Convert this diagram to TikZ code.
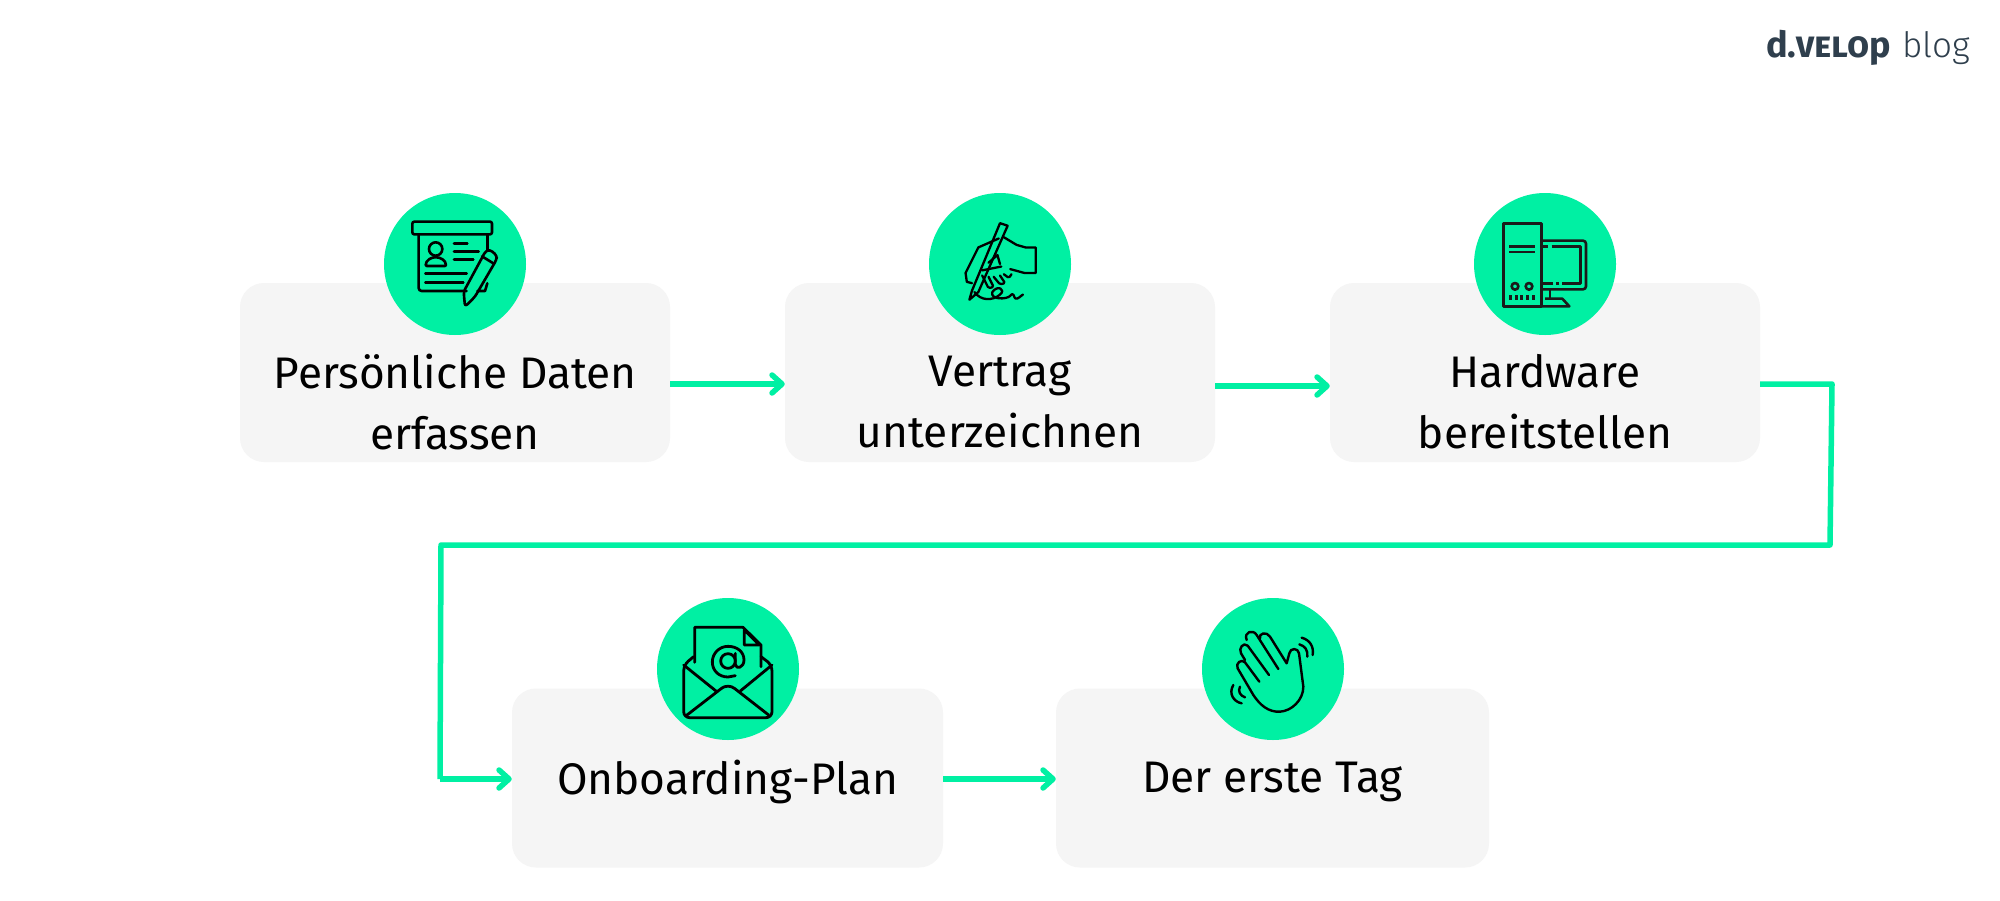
\documentclass[tikz,border=0pt]{standalone}
\usepackage{fontspec}
\setmainfont{Fira Sans}
\usetikzlibrary{arrows.meta}
\definecolor{mint}{HTML}{00F0A3}
\definecolor{boxgrey}{HTML}{F5F5F5}
\definecolor{logoink}{HTML}{2F3F4D}
\definecolor{towerink}{HTML}{1A1A1A}
\tikzset{
  card/.style={fill=boxgrey,rounded corners=24pt,inner sep=0pt,minimum height=179pt},
  badge/.style={circle,fill=mint,minimum size=142pt,inner sep=0pt},
  caption/.style={font=\fontsize{44.2}{61}\selectfont,align=center,inner sep=0pt,text=black},
  link/.style={draw=mint,line width=5.5pt},
  flow/.style={link,-{Straight Barb[length=10pt,width=18pt,line width=5.5pt,round]}},
  ico/.style={line width=2.6pt,line join=round,line cap=round,draw=black},
  zoomed/.style={x=0.33333pt,y=-0.33333pt},
}
\begin{document}
\begin{tikzpicture}[x=1pt,y=-1pt]
\useasboundingbox (0,0) rectangle (2000,900);
\fill[white] (0,0) rectangle (2000,900);
% cards
\node[card,minimum width=430pt] (b1) at (455,372.5) {};
\node[card,minimum width=430pt] (b2) at (1000,372.5) {};
\node[card,minimum width=430pt] (b3) at (1545,372.5) {};
\node[card,minimum width=431pt] (b4) at (727.5,778) {};
\node[card,minimum width=433pt] (b5) at (1272.5,778) {};
% connectors
\draw[flow] ([yshift=-11.5pt]b1.east) -- ([yshift=-11.5pt]b2.west);
\draw[flow] ([yshift=-13.5pt]b2.east) -- ([yshift=-13.5pt]b3.west);
\coordinate (c1) at (1832,384);
\coordinate (c2) at (1830,545);
\coordinate (c3) at (441,545);
\coordinate (c4) at (440,779);
\draw[link,line join=round] ([yshift=-11.5pt]b3.east) -- (c1) -- (c2) -- (c3) -- (c4);
\draw[flow] (c4) -- ([yshift=-1pt]b4.west);
\draw[flow] ([yshift=-1pt]b4.east) -- ([yshift=-1pt]b5.west);
% badges
\node[badge] (k1) at (455,264) {};
\node[badge] (k2) at (1000,264) {};
\node[badge] (k3) at (1545,264) {};
\node[badge] (k4) at (728,669) {};
\node[badge] (k5) at (1273,669) {};
% captions
\node[caption] (t1) at (455,402) {Persönliche Daten\\erfassen};
\node[caption] (t2) at (1000,402) {Vertrag\\unterzeichnen};
\node[caption] (t3) at (1545,402) {Hardware\\bereitstellen};
\node[caption] (t4) at (727.5,781.5) {Onboarding-Plan};
\node[caption] (t5) at (1272.5,781.5) {Der erste Tag};
% logo
\node[anchor=base east,inner sep=0pt,text=logoink,font=\fontsize{36}{36}\selectfont\bfseries] (l1) at (1891,57) {d.{\addfontfeature{Letters=SmallCaps}velo}p};
\node[anchor=base west,inner sep=0pt,text=logoink,font=\fontsize{35}{35}\fontspec{Fira Sans Light}] (l2) at (1902,57) {blog};
% icon 1
\begin{scope}[shift={(370,180)},zoomed,ico]
  \draw[rounded corners=2pt] (127,125) rectangle (366,163);
  \draw (146,163) -- (146,325) [rounded corners=3pt] -- (146,333) -- (290,333);
  \draw (352,163) -- (352,210);
  \draw (352,310) -- (345,333) -- (322,333);
  \draw (197,207) circle (20);
  \draw[rounded corners=1pt] (167,258) .. controls (167,240) and (185,232) .. (197,232) .. controls (209,232) and (228,240) .. (228,258) -- cycle;
  \draw (252,190) -- (292,190);
  \draw (252,214) -- (326,214);
  \draw (252,238) -- (310,238);
  \draw (166,280) -- (290,280);
  \draw (166,307) -- (280,307);
  \draw[rounded corners=3pt] (281,335) -- (347,213) -- (360,209) -- (381,227) -- (379,240) -- (315,350) -- (285,380) -- cycle;
  \draw (336,229) -- (370,250);
\end{scope}
% icon 2
\begin{scope}[shift={(1000,264)},x=1.2755pt,y=-1.2755pt,ico,line width=2.3pt]
  \draw (0,-32) -- (-22,21) -- (-24,28) -- (-17,22) -- (6,-30) -- cycle;
  \draw (-1,-20) -- (-17,-13) -- (-27,7) -- (-26,14) -- (-22,15);
  \draw (3,-21) -- (13,-15) -- (20,-13) -- (28,-13) -- (28,7) -- (19,7) -- (8,4);
  \draw (-14,5) -- (1,2);
  \draw (-9,-1) -- (-2,-7) -- (0,0);
  \draw[rounded corners=1.5pt] (-14,9) -- (-9,19) -- (-5,18) -- (-9,10);
  \draw[rounded corners=1.5pt] (-5,10) -- (0,16) -- (4,15) -- (0,9);
  \draw[rounded corners=1.5pt] (3,8) -- (7,11) -- (9,8);
  \draw (-20,22) .. controls (-15,29) and (-6,29) .. (0,24) .. controls (5,20) and (-2,16) .. (-6,22) .. controls (-8,28) and (5,28) .. (8,25) .. controls (11,21) and (11,27) .. (12,27) .. controls (14,28) and (16,25) .. (18,24);
\end{scope}
% icon 3
\begin{scope}[shift={(1455,180)},zoomed,ico,draw=towerink,line cap=butt]
  \draw (146,131) rectangle (260,379);
  \draw (163,199) -- (240,199);
  \draw (163,216) -- (240,216);
  \draw (180,319) circle (10);
  \draw (222,319) circle (10);
  \foreach \tx in {166,183,200,217,235} \draw[line width=3pt] (\tx,345) -- (\tx,359);
  \draw[rounded corners=3pt] (260,182) -- (393,182) -- (393,328) -- (260,328);
  \draw (260,199) -- (278,199);
  \draw (290,199) -- (376,199) -- (376,311) -- (322,311);
  \draw (313,311) -- (303,311);
  \draw (295,311) -- (260,311);
  \draw (285,328) -- (285,356);
  \draw (270,356) -- (322,356) -- (343,379) -- (260,379);
\end{scope}
% icon 4
\begin{scope}[shift={(642,585)},zoomed,ico,line width=2.8pt]
  \draw (158,232) -- (158,127) -- (303,127) -- (357,180) -- (357,245);
  \draw (307,135) -- (307,180) -- (352,180) -- cycle;
  \draw (258,228) circle (22);
  \draw (280,205) -- (280,238) .. controls (282,255) and (306,248) .. (306,225) .. controls (306,200) and (285,184) .. (258,184) .. controls (232,184) and (211,205) .. (211,231) .. controls (211,258) and (232,276) .. (258,276) -- (280,272);
  \draw[rounded corners=6pt] (155,215) -- (125,240) -- (125,398) -- (390,398) -- (390,240) -- (357,215);
  \draw (125,240) -- (222,318);
  \draw (390,240) -- (295,318);
  \draw[rounded corners=8pt] (135,390) -- (258,295) -- (380,390);
\end{scope}
% icon 5
\begin{scope}[shift={(1190,585)},zoomed,ico,line width=2.4pt]
  \draw (208,290) -- (165,232) .. controls (155,220) and (135,235) .. (143,250) -- (190,330) .. controls (210,360) and (235,382) .. (270,380) .. controls (305,378) and (340,345) .. (340,305) -- (327,205) .. controls (325,188) and (300,188) .. (298,205) -- (290,235) -- (240,155) .. controls (230,138) and (205,145) .. (210,160);
  \draw (265,252) -- (200,150) .. controls (190,132) and (160,140) .. (170,165);
  \draw (237,270) -- (173,182) .. controls (160,170) and (145,190) .. (153,205) -- (165,225);
  \draw (328,178) .. controls (345,183) and (354,195) .. (352,215);
  \draw (335,158) .. controls (360,165) and (372,185) .. (368,210);
  \draw (150,305) .. controls (143,318) and (150,332) .. (165,337);
  \draw (130,300) .. controls (115,325) and (130,350) .. (155,355);
\end{scope}
\end{tikzpicture}
\end{document}
